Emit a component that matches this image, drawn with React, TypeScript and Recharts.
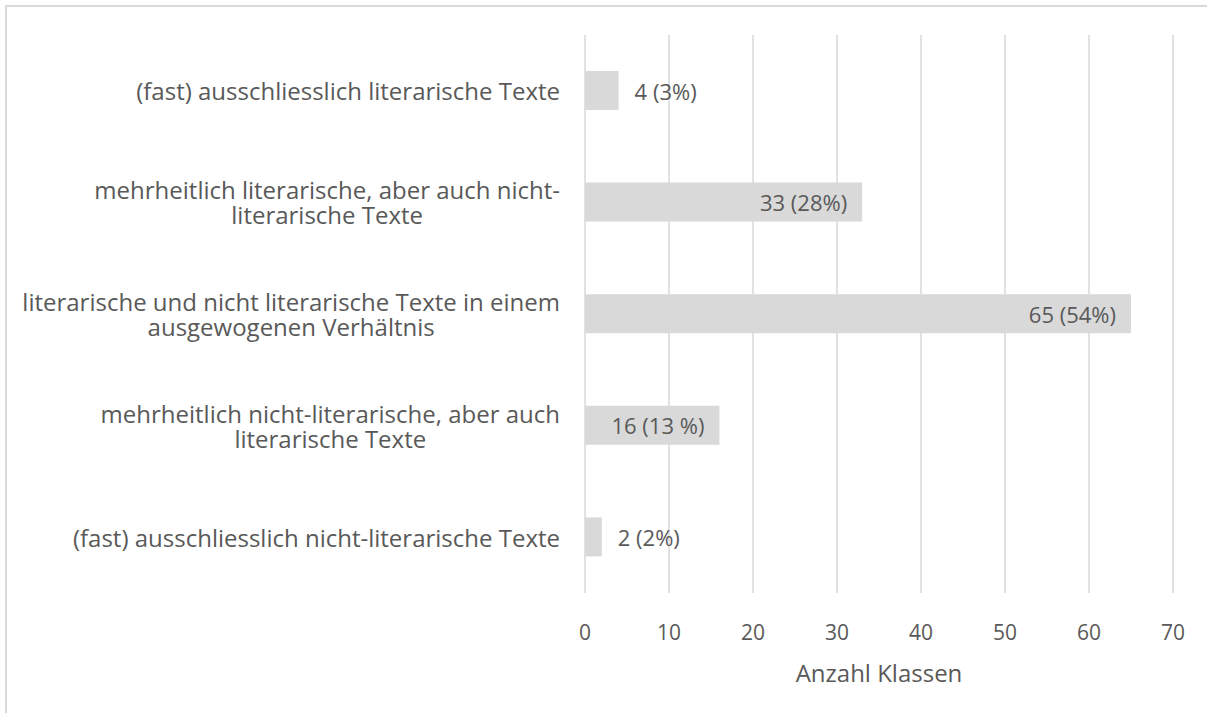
import React from 'react';
import { BarChart, Bar, XAxis, YAxis, CartesianGrid, LabelList, Label } from 'recharts';

const categories = [
  '(fast) ausschliesslich literarische Texte',
  'mehrheitlich literarische, aber auch nicht-\nliterarische Texte',
  'literarische und nicht literarische Texte in einem\nausgewogenen Verhältnis',
  'mehrheitlich nicht-literarische, aber auch\nliterarische Texte',
  '(fast) ausschliesslich nicht-literarische Texte',
];
const counts = [4, 33, 65, 16, 2];
const valueLabels = ['4 (3%)', '33 (28%)', '65 (54%)', '16 (13 %)', '2 (2%)'];
const xTicks = [0, 10, 20, 30, 40, 50, 60, 70];
const xAxisTitle = 'Anzahl Klassen';

const data = categories.map((c, i) => ({ category: c, count: counts[i], label: valueLabels[i] }));

const FONT = '"Open Sans", Lato, sans-serif';
const TEXT = '#595959';
const GRID = '#d9d9d9';
const BAR = '#d9d9d9';

const CategoryTick = (props: any) => {
  const { x, y, payload } = props;
  const w = 560;
  return (
    <foreignObject x={x - 25 - w} y={y - 45} width={w} height={90}>
      <div
        style={{
          width: '100%',
          height: '100%',
          display: 'flex',
          alignItems: 'center',
          justifyContent: 'flex-end',
        }}
      >
        <span
          style={{
            textAlign: 'center',
            whiteSpace: 'pre-line',
            fontFamily: FONT,
            fontSize: 24,
            lineHeight: '25px',
            color: TEXT,
          }}
        >
          {payload.value}
        </span>
      </div>
    </foreignObject>
  );
};

const ValueTick = (props: any) => {
  const { x, y, payload } = props;
  return (
    <text
      x={x}
      y={y + 39}
      textAnchor="middle"
      dominantBaseline="central"
      fill={TEXT}
      fontSize={21}
      fontFamily={FONT}
    >
      {payload.value}
    </text>
  );
};

const renderValueLabel = (props: any) => {
  const { x, y, width, height, value } = props;
  const inside = width > 100;
  const tx = inside ? x + width - 15 : x + width + 16;
  return (
    <text
      x={tx}
      y={y + height / 2}
      textAnchor={inside ? 'end' : 'start'}
      dominantBaseline="central"
      fill={TEXT}
      fontSize={22}
      fontFamily={FONT}
    >
      {value}
    </text>
  );
};

export default function App() {
  return (
    <div
      style={{
        position: 'fixed',
        left: 0,
        top: 0,
        width: 1207,
        height: 713,
        background: '#fff',
        overflow: 'hidden',
      }}
    >
      <div
        style={{
          position: 'absolute',
          left: 5,
          top: 5,
          width: 1300,
          height: 800,
          borderLeft: `2px solid ${GRID}`,
          borderTop: `2px solid ${GRID}`,
        }}
      />
      <div style={{ position: 'absolute', left: 0, top: 0 }}>
        <BarChart
          width={1207}
          height={713}
          data={data}
          layout="vertical"
          margin={{ top: 35, right: 34, bottom: 0, left: 0 }}
          barSize={39}
        >
          <CartesianGrid horizontal={false} stroke={GRID} strokeWidth={1.5} />
          <XAxis
            type="number"
            domain={[0, 70]}
            ticks={xTicks}
            axisLine={false}
            tickLine={false}
            tickSize={0}
            tickMargin={0}
            height={120}
            tick={<ValueTick />}
            interval={0}
          >
            <Label
              value={xAxisTitle}
              position="insideBottom"
              offset={31}
              fill={TEXT}
              fontSize={24}
              fontFamily={FONT}
            />
          </XAxis>
          <YAxis
            type="category"
            dataKey="category"
            width={585}
            axisLine={false}
            tickLine={false}
            tickSize={0}
            tickMargin={0}
            tick={<CategoryTick />}
            interval={0}
          />
          <Bar dataKey="count" fill={BAR} isAnimationActive={false}>
            <LabelList dataKey="label" content={renderValueLabel} />
          </Bar>
        </BarChart>
      </div>
    </div>
  );
}
